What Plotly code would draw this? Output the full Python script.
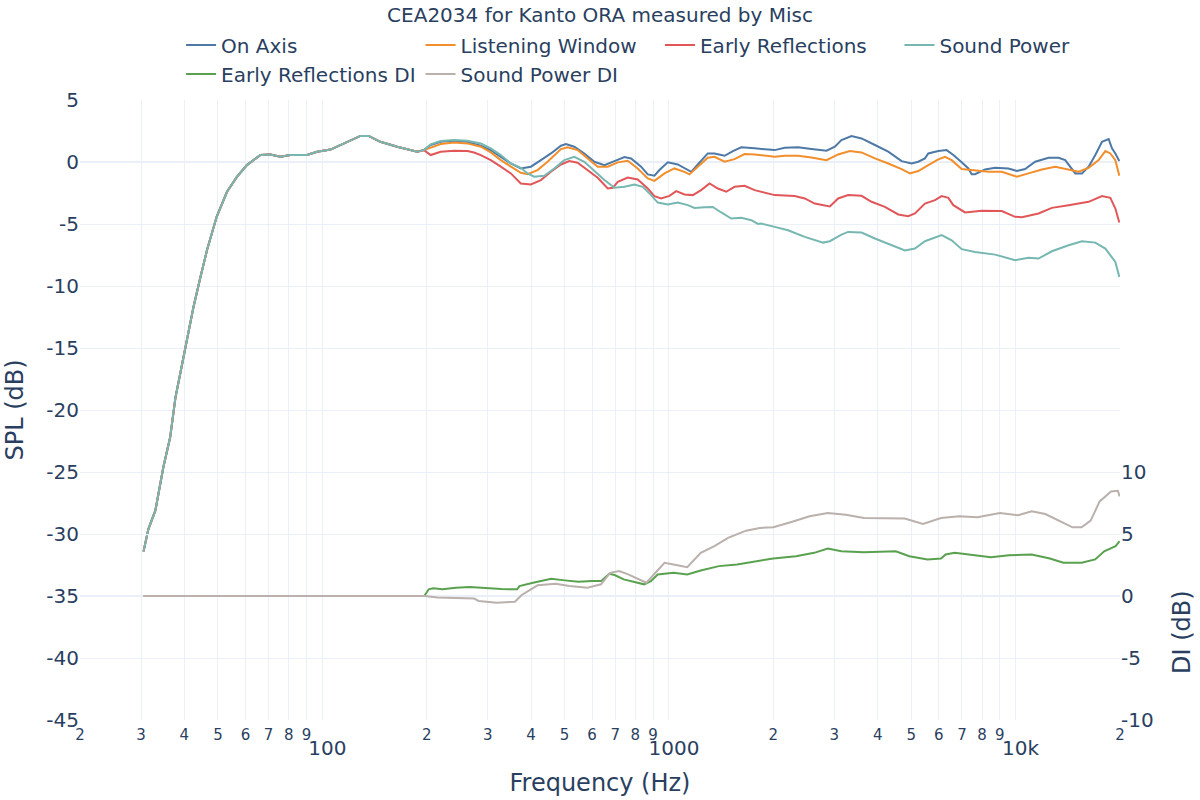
import plotly.graph_objects as go

# ---- shared low-frequency part (all SPL curves coincide) ----
lf_freq = [30.5, 31.5, 33.0, 34.8, 36.4, 37.7, 38.9, 40.7, 42.5, 44.5, 46.5, 49.6, 53.1, 56.7,
           60.6, 66.3, 70.8, 75.7, 80.9, 90.4, 96.6, 105.6, 117.9, 128.8, 136.0, 147.0, 164.5,
           187.8, 196.4]
lf_spl = [-31.4, -29.6, -28.1, -24.6, -22.2, -19.0, -17.1, -14.4, -11.7, -9.3, -7.1, -4.4, -2.4, -1.2,
          -0.25, 0.56, 0.61, 0.42, 0.56, 0.56, 0.82, 1.0, 1.63, 2.1, 2.1, 1.63, 1.23,
          0.82, 0.96]

# ---- On Axis (above 200 Hz) ----
on_freq = [205.4, 219.5, 239.9, 262.1, 286.5, 306.2, 327.2, 349.8, 373.8, 399.6, 427.1, 456.5, 488.0,
           504.5, 533.2, 570.0, 609.3, 651.2, 696.2, 743.9, 777.3, 830.9, 868.6, 908.0, 938.6, 992.2,
           1060, 1133, 1159, 1211, 1294, 1353, 1447, 1529, 1616, 1767, 1846, 2018, 2157, 2357, 2576,
           2847, 3009, 3145, 3361, 3593, 3927, 4290, 4688, 5010, 5237, 5475, 5598, 5984, 6324, 6611,
           6988, 7305, 7468, 7636, 8162, 8725, 9535, 10078, 10652, 11385, 12443, 13300, 13900, 14530,
           14859, 15532, 16236, 16975, 17745, 18553, 18963, 19392, 19911]
on_spl = [1.37, 1.63, 1.72, 1.63, 1.31, 0.96, 0.42, -0.12, -0.52, -0.38, 0.15, 0.69, 1.31,
          1.45, 1.23, 0.69, 0.02, -0.25, 0.07, 0.40, 0.29, -0.38, -1.00, -1.11, -0.65, -0.03,
          -0.20, -0.65, -0.79, -0.20, 0.69, 0.69, 0.50, 0.88, 1.18, 1.10, 1.04, 0.96, 1.15, 1.18, 1.04,
          0.91, 1.23, 1.77, 2.09, 1.90, 1.37, 0.83, 0.07, -0.12, 0.02, 0.29, 0.69, 0.88, 0.96, 0.56,
          -0.03, -0.52, -0.98, -0.98, -0.60, -0.47, -0.52, -0.73, -0.57, 0.02, 0.34, 0.34, 0.15, -0.52,
          -0.92, -0.92, -0.38, 0.56, 1.63, 1.85, 1.10, 0.69, 0.07]

# ---- Listening Window ----
lw_freq = [205.4, 219.5, 239.9, 262.1, 286.5, 306.2, 327.2, 349.8, 373.8, 390.8, 417.7, 446.5, 488.0,
           510.0, 545.1, 582.8, 623.0, 665.9, 711.7, 760.3, 812.6, 868.6, 908.0, 970.5, 1037, 1109,
           1146, 1211, 1294, 1353, 1447, 1546, 1652, 1767, 1846, 2018, 2157, 2357, 2576, 2847, 3076,
           3324, 3593, 3927, 4290, 4688, 4955, 5237, 5598, 5984, 6255, 6537, 6988, 7636, 8343, 9120,
           10078, 10891, 11902, 13007, 14213, 15190, 16236, 17355, 18146, 18759, 19392, 19911]
lw_spl = [1.15, 1.45, 1.58, 1.50, 1.23, 0.77, 0.15, -0.38, -0.87, -0.98, -0.65, 0.02, 1.04,
          1.18, 0.96, 0.29, -0.38, -0.38, -0.03, 0.10, -0.52, -1.33, -1.52, -0.92, -0.52, -0.79,
          -1.00, -0.38, 0.34, 0.42, 0.02, 0.23, 0.64, 0.61, 0.56, 0.42, 0.50, 0.50, 0.37, 0.15, 0.61,
          0.88, 0.77, 0.29, -0.12, -0.57, -0.92, -0.73, -0.25, 0.21, 0.42, 0.15, -0.57, -0.65, -0.79, -0.79,
          -1.19, -0.92, -0.60, -0.38, -0.65, -0.79, -0.47, 0.15, 0.88, 0.69, 0.15, -1.11]

# ---- Early Reflections ----
er_freq = [205.4, 219.5, 239.9, 262.1, 274.0, 286.5, 306.2, 327.2, 349.8, 373.8, 399.6, 427.1, 456.5,
           488.0, 515.7, 545.1, 582.8, 623.0, 665.9, 688.5, 711.7, 760.3, 812.6, 868.6, 908.0, 949.0,
           1003, 1049, 1109, 1172, 1238, 1309, 1384, 1463, 1546, 1652, 1767, 1846, 2018, 2305, 2464,
           2633, 2911, 3076, 3287, 3593, 3840, 4196, 4586, 4901, 5122, 5475, 5853, 6117, 6394, 6611,
           7145, 7982, 9120, 9966, 10419, 11641, 12722, 14213, 16236, 17745, 18759, 19392, 19607, 19911]
er_spl = [0.56, 0.83, 0.91, 0.88, 0.77, 0.56, 0.15, -0.38, -0.92, -1.73, -1.81, -1.46, -0.79,
          -0.20, 0.07, -0.06, -0.65, -1.27, -2.14, -2.08, -1.60, -1.25, -1.41, -2.14, -2.75, -2.94,
          -2.73, -2.35, -2.62, -2.67, -2.27, -1.73, -2.14, -2.40, -2.00, -1.92, -2.27, -2.40, -2.67, -2.75, -2.94,
          -3.35, -3.59, -2.94, -2.67, -2.73, -3.21, -3.62, -4.23, -4.37, -4.15, -3.35, -3.08, -2.75, -2.89, -3.48,
          -4.07, -3.94, -3.96, -4.42, -4.45, -4.15, -3.70, -3.48, -3.21, -2.75, -2.89, -3.75, -4.29, -4.88]

# ---- Sound Power ----
sp_freq = [205.4, 219.5, 239.9, 262.1, 286.5, 306.2, 327.2, 349.8, 373.8, 390.8, 408.5, 436.6, 466.7,
           498.9, 533.2, 570.0, 609.3, 651.2, 696.2, 743.9, 794.8, 840.2, 887.9, 928.3, 992.2, 1060,
           1133, 1185, 1266, 1338, 1415, 1512, 1616, 1728, 1806, 1846, 2018, 2205, 2464, 2784, 2911,
           3145, 3287, 3593, 3927, 4387, 4793, 5122, 5475, 6117, 6537, 6988, 7636, 8725, 9966, 10891,
           11641, 12722, 14213, 15532, 16975, 18146, 18963, 19392, 19911]
sp_spl = [1.42, 1.69, 1.77, 1.72, 1.50, 1.10, 0.56, -0.12, -0.47, -0.92, -1.19, -1.11, -0.52,
          0.15, 0.42, 0.02, -0.73, -1.46, -2.08, -2.00, -1.81, -2.00, -2.67, -3.27, -3.43, -3.27,
          -3.48, -3.70, -3.64, -3.62, -4.07, -4.56, -4.50, -4.69, -4.99, -4.96, -5.23, -5.50, -6.04, -6.50, -6.39,
          -5.85, -5.64, -5.69, -6.17, -6.71, -7.14, -6.98, -6.39, -5.90, -6.31, -7.03, -7.25, -7.47, -7.92, -7.73,
          -7.79, -7.20, -6.71, -6.39, -6.50, -6.98, -7.65, -8.06, -9.27]

# ---- Early Reflections DI ----
erdi_freq = [30.5, 196.8, 202.8, 209.0, 222.0, 243.0, 266.0, 300.1, 328.4, 364.9, 370.4, 405.4, 457.3,
             500.6, 547.9, 599.7, 636.8, 672.3, 697.1, 740.4, 810.4, 847.7, 886.9, 927.8, 1031, 1129,
             1235, 1393, 1572, 1773, 2000, 2325, 2623, 2871, 3142, 3652, 4510, 4936, 5567, 6093, 6280,
             6669, 7300, 8484, 9570, 11124, 12549, 13735, 15495, 16958, 18009, 19421, 19950]
erdi_val = [0.0, 0.0, 0.54, 0.62, 0.54, 0.67, 0.72, 0.62, 0.56, 0.54, 0.80, 1.07, 1.39,
            1.26, 1.15, 1.20, 1.20, 1.79, 1.69, 1.34, 1.07, 0.94, 1.20, 1.74, 1.87, 1.74,
            2.06, 2.41, 2.54, 2.81, 3.03, 3.21, 3.48, 3.83, 3.61, 3.53, 3.61, 3.21, 2.95, 3.03, 3.35,
            3.48, 3.35, 3.13, 3.29, 3.35, 3.03, 2.68, 2.68, 2.95, 3.61, 4.02, 4.42]

# ---- Sound Power DI ----
spdi_freq = [30.5, 196.8, 215.4, 243.0, 274.2, 282.5, 318.6, 359.4, 376.0, 417.8, 471.2, 515.9, 581.9,
             636.8, 676.4, 718.4, 762.9, 860.5, 913.9, 970.7, 1031, 1129, 1235, 1352, 1480, 1669,
             1827, 2000, 2255, 2544, 2871, 3237, 3652, 4789, 5402, 6093, 6873, 7752, 9011, 10165,
             11124, 12177, 13735, 14587, 15495, 16456, 17474, 18842, 19715, 19950]
spdi_val = [0.0, 0.0, -0.13, -0.19, -0.21, -0.40, -0.54, -0.46, 0.08, 0.86, 0.99, 0.80, 0.67,
            0.94, 1.87, 2.01, 1.74, 1.07, 1.87, 2.68, 2.54, 2.33, 3.48, 4.02, 4.69, 5.27,
            5.49, 5.54, 5.97, 6.43, 6.69, 6.56, 6.29, 6.24, 5.81, 6.29, 6.43, 6.35, 6.69, 6.51,
            6.83, 6.61, 5.89, 5.54, 5.54, 6.08, 7.63, 8.43, 8.49, 8.03]

names = ["On Axis", "Listening Window", "Early Reflections", "Sound Power",
         "Early Reflections DI", "Sound Power DI"]
colors = ["#4E79A7", "#F28E2B", "#E15759", "#76B7B2", "#59A14F", "#BAB0AC"]

spl_ticks = [5, 0, -5, -10, -15, -20, -25, -30, -35, -40, -45]
di_ticks = [10, 5, 0, -5, -10]

spl_series = [(on_freq, on_spl), (lw_freq, lw_spl), (er_freq, er_spl), (sp_freq, sp_spl)]
di_series = [(erdi_freq, erdi_val), (spdi_freq, spdi_val)]

fig = go.Figure()
for i, (f, v) in enumerate(spl_series):
    fig.add_trace(go.Scatter(x=list(lf_freq) + list(f), y=list(lf_spl) + list(v), mode="lines",
                             name=names[i],
                             line=dict(color=colors[i], width=2), yaxis="y"))
for j, (f, v) in enumerate(di_series):
    fig.add_trace(go.Scatter(x=f, y=v, mode="lines", name=names[4 + j],
                             line=dict(color=colors[4 + j], width=2), yaxis="y2"))

font_family = "DejaVu Sans"
fig.update_layout(
    template="plotly_white",
    width=1200, height=800,
    plot_bgcolor="rgba(0,0,0,0)",
    paper_bgcolor="white",
    margin=dict(l=80, r=80, t=100, b=80, autoexpand=False),
    font=dict(family=font_family, size=20, color="#2a3f5f"),
    title=dict(text="CEA2034 for Kanto ORA measured by Misc", x=0.5, xanchor="center",
               y=1 - 15 / 800, yanchor="middle", font=dict(size=20)),
    legend=dict(orientation="h", x=0.527, xanchor="center", y=1.12, yanchor="top",
                font=dict(size=20)),
    xaxis=dict(type="log", range=[1.30103, 4.30103], dtick="D1",
               title=dict(text="Frequency (Hz)", font=dict(size=24)),
               tickfont=dict(size=20), ticklabelstandoff=4, showline=False, automargin=False),
    yaxis=dict(range=[-45, 5], tickvals=spl_ticks, ticktext=[str(t) for t in spl_ticks],
               title=dict(text="SPL (dB)", font=dict(size=24)),
               tickfont=dict(size=20), automargin=False),
    yaxis2=dict(range=[-10, 10], tickvals=di_ticks, ticktext=[str(t) for t in di_ticks],
                domain=[0, 0.4], anchor="x", side="right",
                tickfont=dict(size=20), automargin=False),
    annotations=[dict(text="DI (dB)", textangle=-90, xref="paper", yref="paper",
                      x=1.0596, y=0.142, xanchor="center", yanchor="middle",
                      showarrow=False, font=dict(size=24))],
)

fig.write_html("out.html", config={"displayModeBar": False},
               post_script="document.body.style.margin='0';")
